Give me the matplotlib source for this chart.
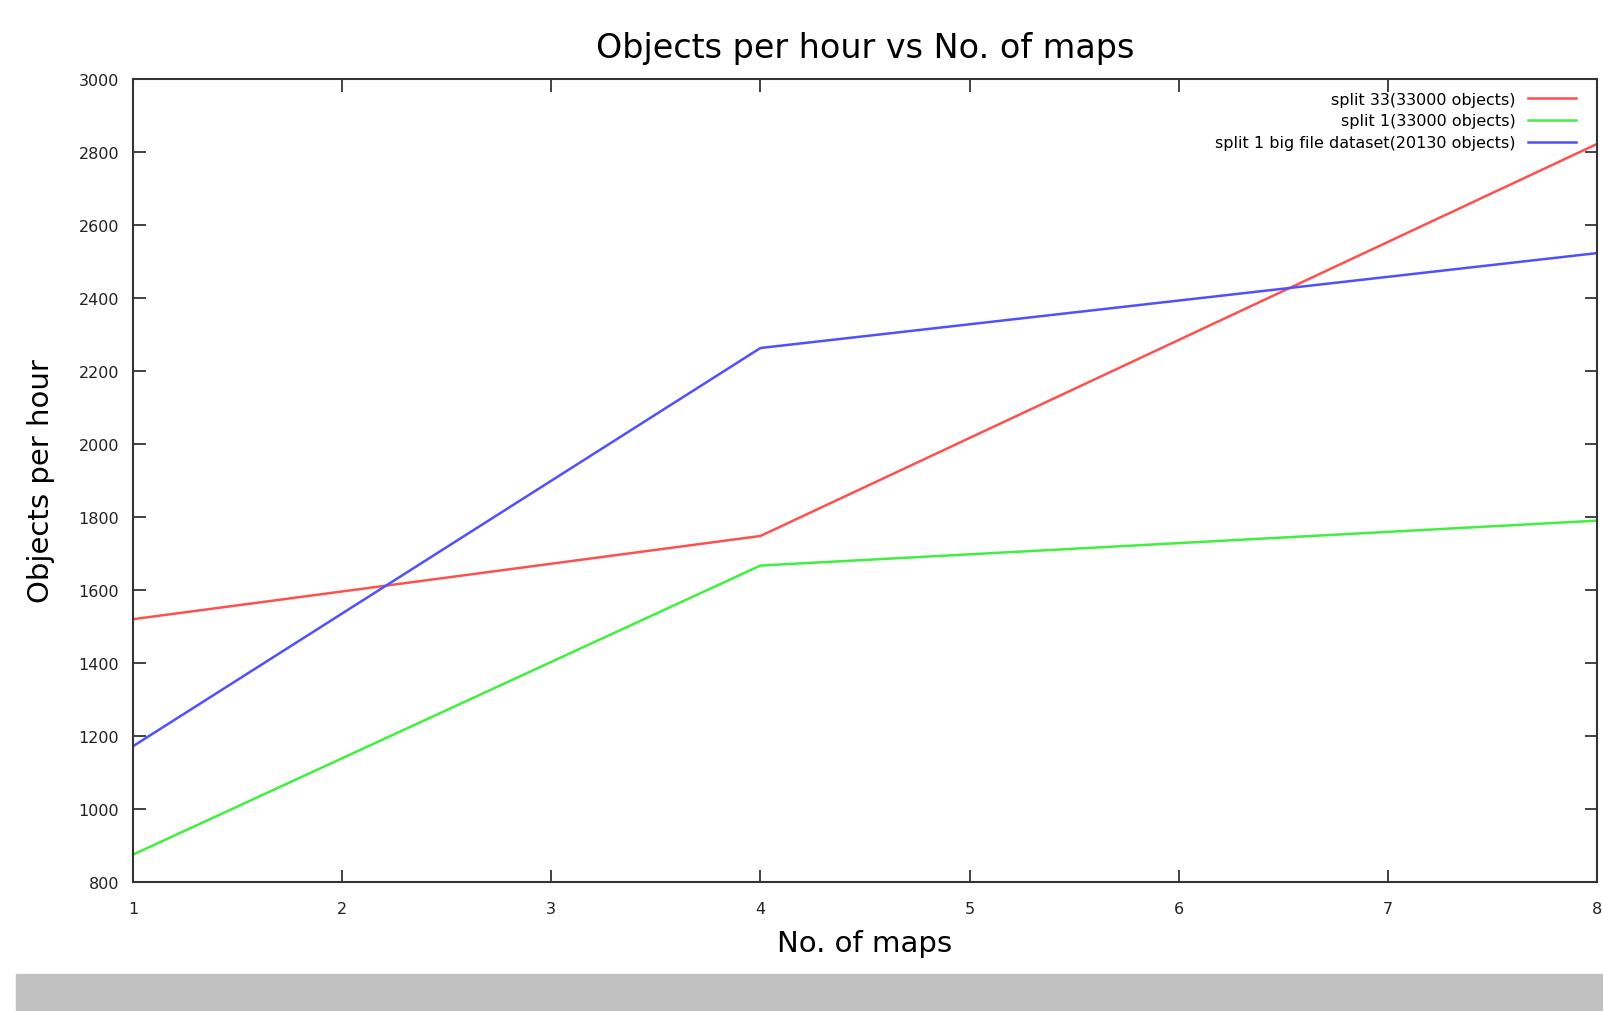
import matplotlib
matplotlib.use("Agg")
import matplotlib.pyplot as plt
from matplotlib.patches import Rectangle

maps = [1, 4, 8]
split33 = [1520, 1748, 2822]
split1 = [875, 1667, 1790]
bigfile = [1172, 2263, 2523]
labels = ["split 33(33000 objects)", "split 1(33000 objects)",
          "split 1 big file dataset(20130 objects)"]
colors = ["#ff5050", "#40f040", "#5050ff"]

W, H = 1603, 1012
fig = plt.figure(figsize=(W/100, H/100), dpi=100)
plt.rcParams['font.family'] = ['DejaVu Sans']
ax = fig.add_axes([133/W, 1-883/H, (1597-133)/W, (883-80)/H])

for ys, lab, c in zip([split33, split1, bigfile], labels, colors):
    ax.plot(maps, ys, color=c, lw=1.8, label=lab)

ax.set_xlim(1, 8)
ax.set_ylim(800, 3000)
ax.set_xticks(range(1, 9))
ax.set_yticks(range(800, 3001, 200))
ax.tick_params(direction='in', length=9, width=1.2, top=True, right=True,
               labelsize=11.5, colors='#222222')
ax.tick_params(axis='x', pad=14)
ax.tick_params(axis='y', pad=10)
for s in ax.spines.values():
    s.set_linewidth(1.5)
    s.set_color('#333333')

ax.set_title("Objects per hour vs No. of maps", fontsize=24, pad=16)
ax.set_xlabel("No. of maps", fontsize=21, labelpad=9)
ax.set_ylabel("Objects per hour", fontsize=21, labelpad=17)

leg = ax.legend(loc='upper right', bbox_to_anchor=(0.9945, 1.0),
                frameon=False, markerfirst=False,
                fontsize=11.5, handlelength=3.0, labelspacing=0.42,
                borderaxespad=0.4, handletextpad=0.8)

fig.patches.append(Rectangle((16/W, 0), 1-16/W, (1012-975)/H,
                             transform=fig.transFigure, color='#c0c0c0',
                             zorder=0))
fig.savefig("out.png", dpi=100)
